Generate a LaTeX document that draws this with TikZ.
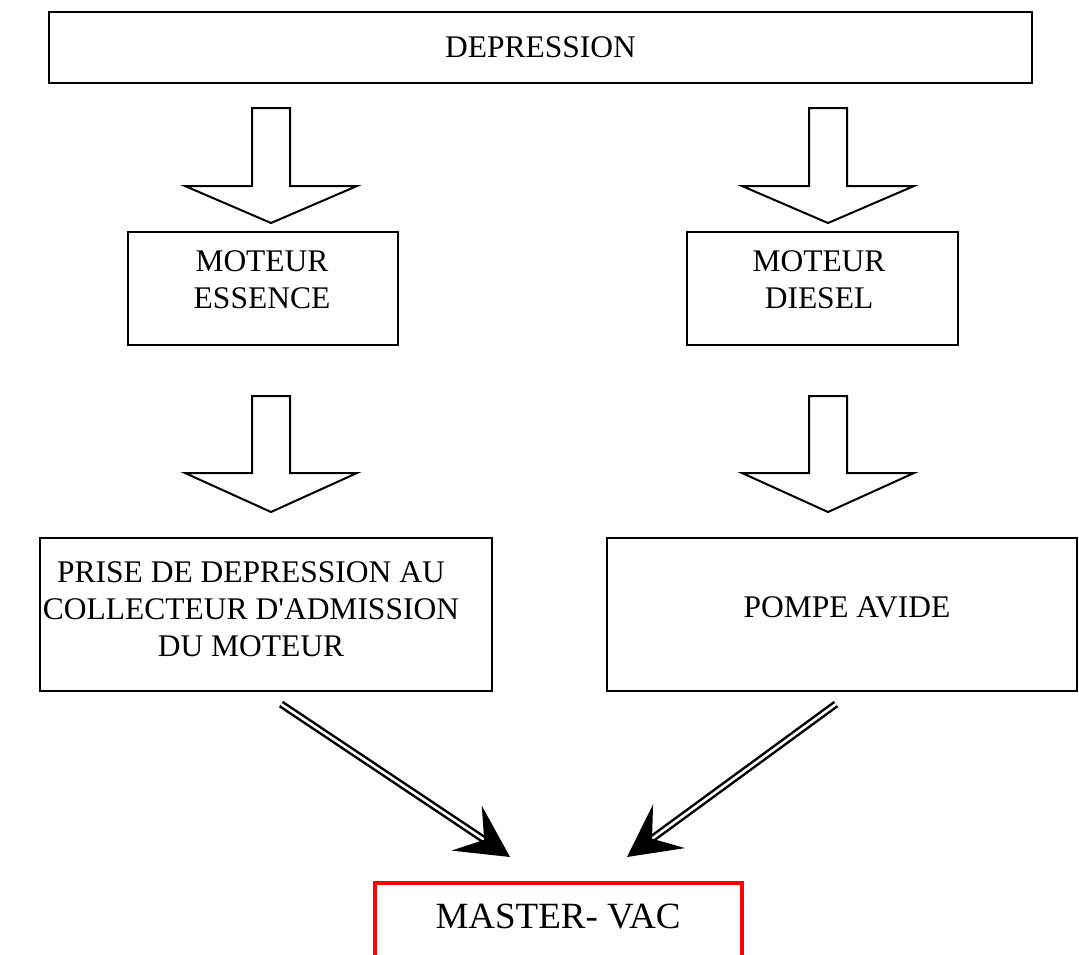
\documentclass[tikz,border=0pt]{standalone}
\usepackage{fontspec}
\setmainfont{Liberation Serif}[Ligatures=TeXOff]
\usetikzlibrary{arrows.meta}
\tikzset{
  box/.style={draw=black, line width=2.2pt, fill=white, inner sep=0pt},
  txt/.style={font=\fontsize{31.5}{37}\selectfont, align=center, inner sep=0pt},
  bigtxt/.style={font=\fontsize{37}{44}\selectfont, align=center, inner sep=0pt},
  blk/.style={draw=black, line width=2pt, line join=miter, fill=white},
  dbl/.style={draw=black, double=white, line width=2.5pt, double distance=2.6pt,
    -{Stealth[length=52pt,width=54pt,inset=21pt]}},
  redbox/.style={draw=red, line width=3.2pt, fill=white, inner sep=0pt},
}
\newcommand\blkarrow[4]{%
  \draw[blk] ({#1-19},#2) -- ({#1+19},#2) -- ({#1+19},#3) -- ({#1+86},#3)
    -- (#1,#4) -- ({#1-86},#3) -- ({#1-19},#3) -- cycle;}
\begin{document}
\begin{tikzpicture}[x=1pt,y=-1pt]
\useasboundingbox[fill=white] (0,0) rectangle (1079,954);
\clip (0,0) rectangle (1079,954);

% top box
\node[box, minimum width=983pt, minimum height=71pt] (dep) at (540.5,47.5) {};
\node[txt] (depT) at (540.5,47) {DEPRESSION};

% block arrows, first row
\blkarrow{271}{108}{186}{223}
\blkarrow{828}{108}{186}{223}

% engine boxes
\node[box, minimum width=270pt, minimum height=113pt] (ess) at (263,288.5) {};
\node[txt] (essT) at (262,279.5) {MOTEUR\\ESSENCE};
\node[box, minimum width=271pt, minimum height=113pt] (dsl) at (822.5,288.5) {};
\node[txt] (dslT) at (819,279.5) {MOTEUR\\DIESEL};

% block arrows, second row
\blkarrow{271}{396}{473}{512}
\blkarrow{828}{396}{473}{512}

% source boxes
\node[box, minimum width=452pt, minimum height=153pt] (prise) at (266,614.5) {};
\node[txt] (priseT) at (251,609.5) {PRISE DE DEPRESSION AU\\COLLECTEUR D'ADMISSION\\DU MOTEUR};
\node[box, minimum width=470pt, minimum height=153pt] (pompe) at (842,614.5) {};
\node[txt] (pompeT) at (847,607) {POMPE AVIDE};

% master-vac
\node[redbox, minimum width=367pt, minimum height=80pt] (mv) at (558.5,923) {};
\node[bigtxt] (mvT) at (558,917) {MASTER- VAC};

% double arrows
\coordinate (l1) at (281,704);
\coordinate (l2) at (510,857);
\coordinate (r1) at (836,704);
\coordinate (r2) at (627,857);
\draw[dbl] (l1) -- (l2);
\draw[dbl] (r1) -- (r2);
\end{tikzpicture}
\end{document}
